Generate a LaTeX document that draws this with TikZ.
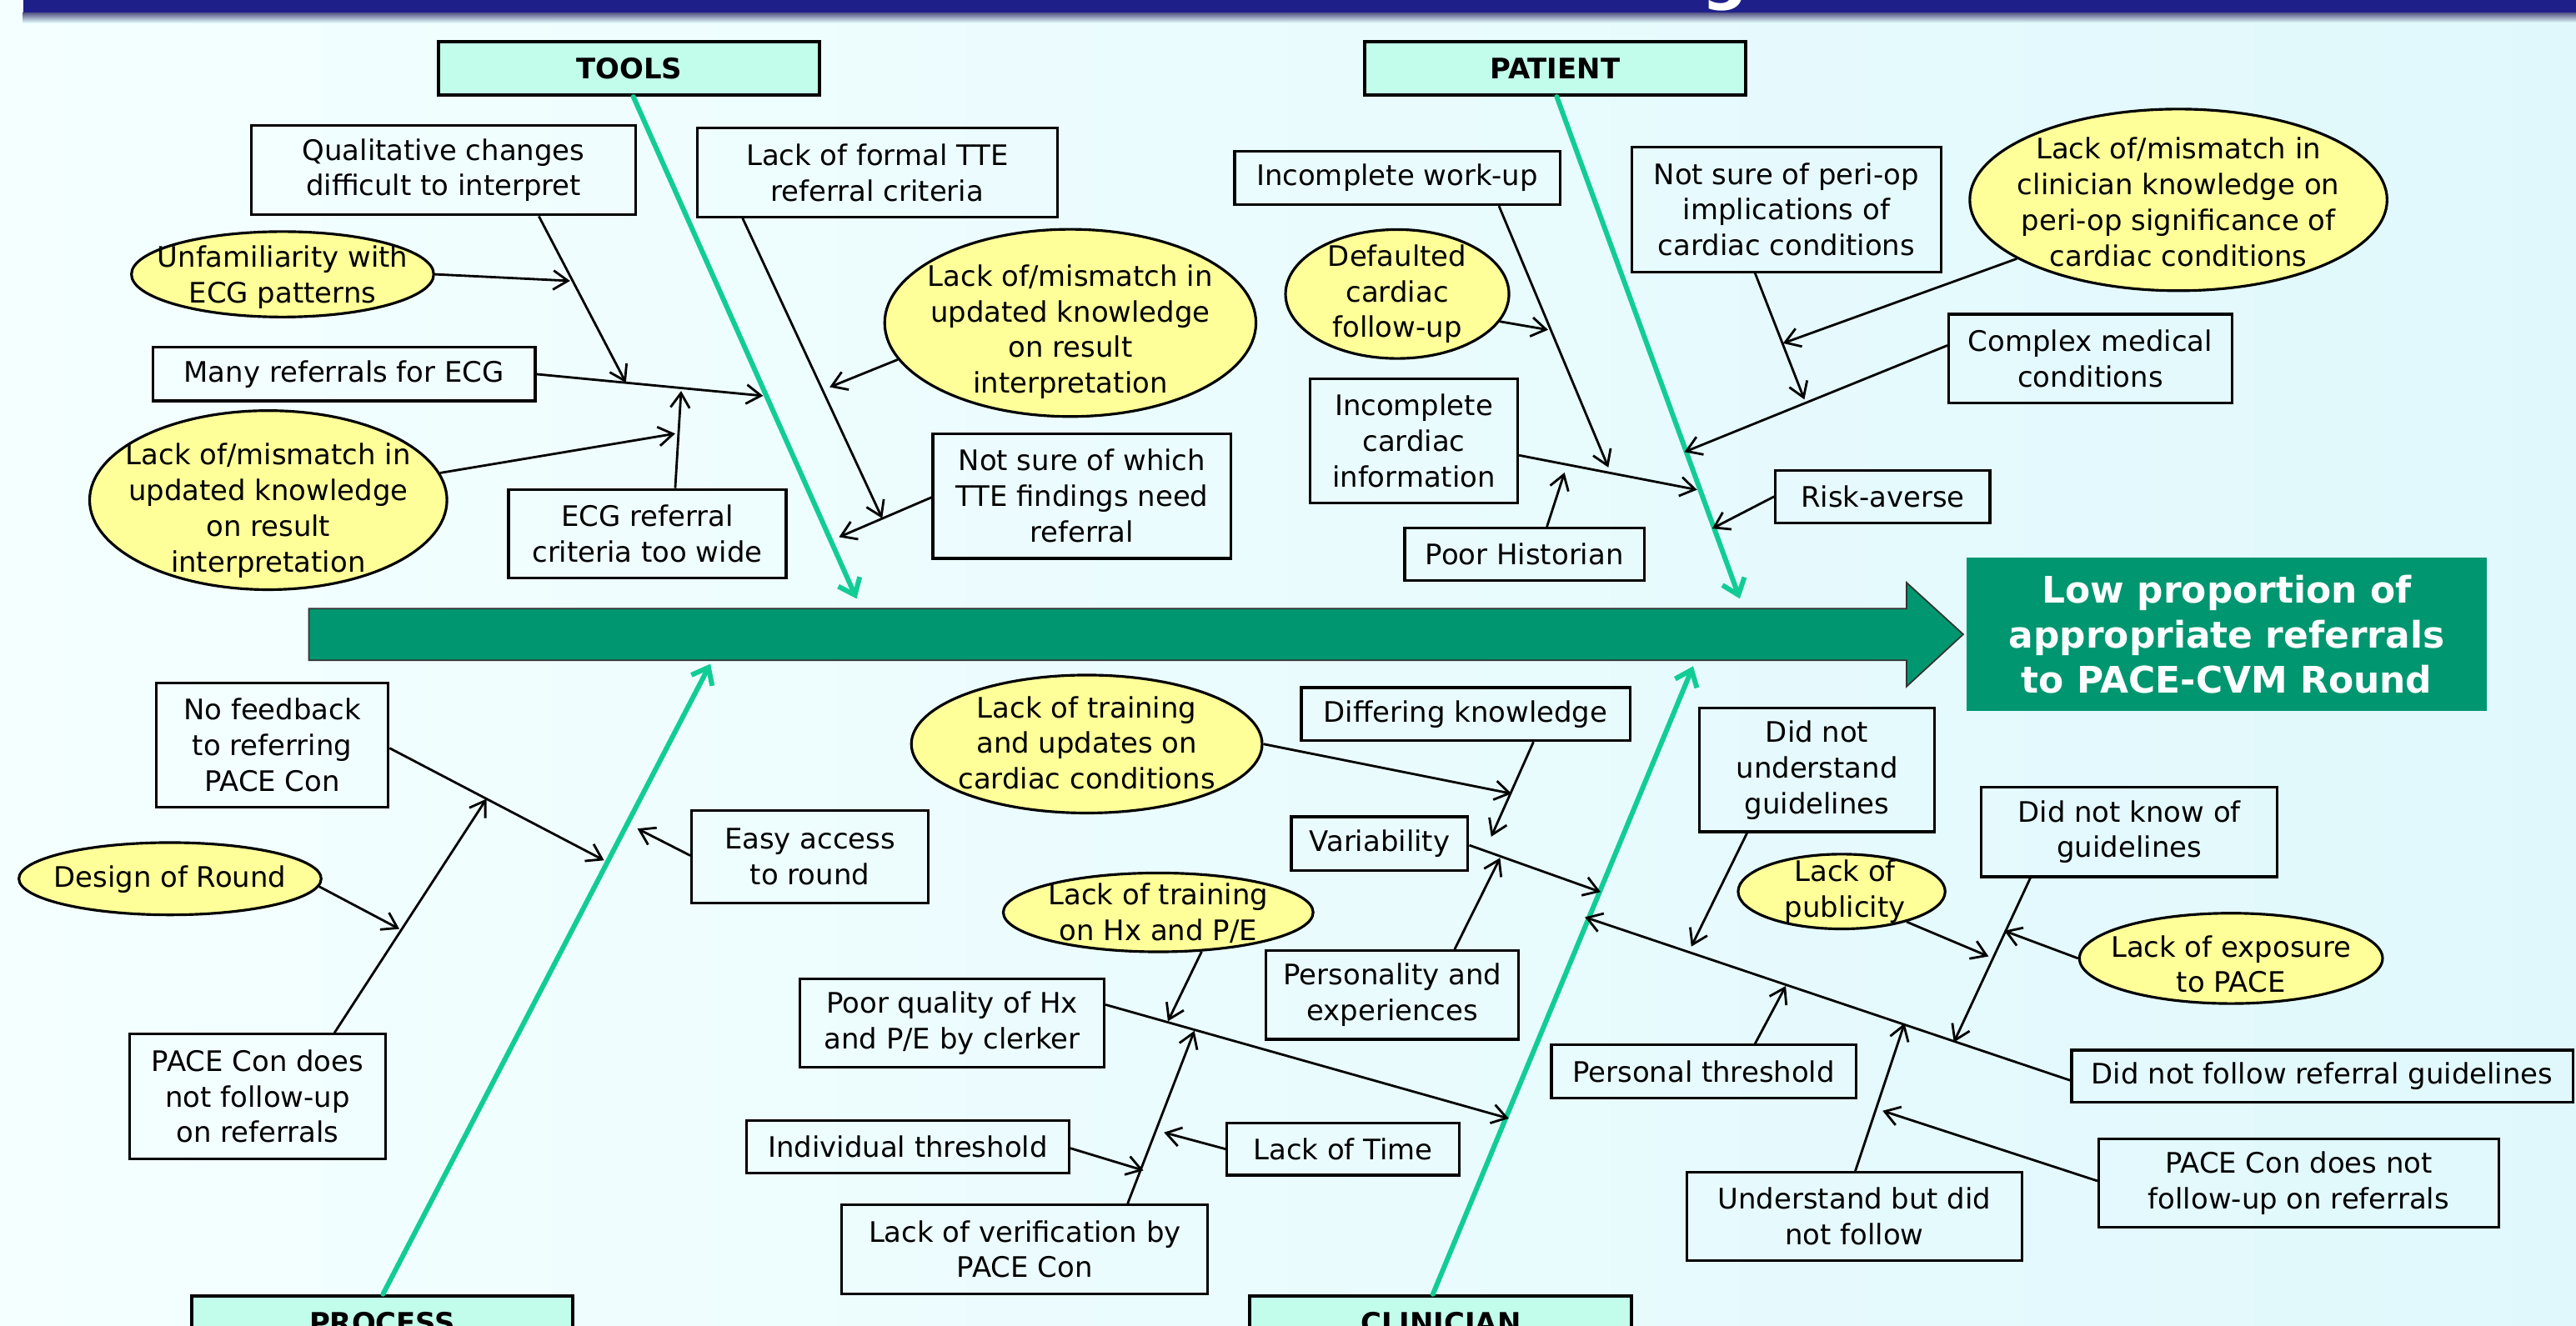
\documentclass[tikz,border=0pt]{standalone}
\usepackage{fontspec}
\setmainfont{DejaVu Sans}
\usetikzlibrary{arrows.meta,shapes.geometric}
\newcommand\pxu{0.019707cm}
\newcommand\fs{\fontsize{9.65}{12.2}\selectfont}
\definecolor{spinec}{HTML}{009670}
\definecolor{bonec}{HTML}{12CC96}
\definecolor{catc}{HTML}{C2FDEB}
\definecolor{yelc}{HTML}{FFFF99}
\definecolor{navyc}{HTML}{1F1F8A}
\definecolor{bgL}{HTML}{F4FFFF}
\definecolor{bgM}{HTML}{E8FFFF}
\definecolor{bgR}{HTML}{E0F8FC}
\tikzset{
  box/.style={draw=black, line width=0.9pt, align=center, inner sep=0pt, font=\fs},
  ellnode/.style={ellipse, draw=black, line width=0.9pt, fill=yelc, inner sep=0pt},
  catbox/.style={draw=black, line width=1.2pt, fill=catc, inner sep=0pt, font=\fs\bfseries},
  arr/.style={draw=black, line width=0.8pt, -{Straight Barb[length=5pt,width=6.5pt]}},
  garr/.style={draw=bonec, line width=1.7pt, line cap=round, -{Straight Barb[length=5pt,width=8pt]}},
}
\newcommand\mkbox[5]{\node[box,minimum width=#3*\pxu,minimum height=#4*\pxu] (#1) at (#2) {#5};}
\newcommand\mkell[6]{\node[ellnode,minimum width=#3*\pxu,minimum height=#4*\pxu] (#1) at (#2) {};
  \node[font=\fs,align=center,inner sep=0pt] (#1-t) at (#5) {#6};}
\begin{document}
\begin{tikzpicture}[x=0.019707cm,y=-0.019707cm]
\useasboundingbox (0,0) rectangle (1568,807);
\clip (0,0) rectangle (1568,807);
% background
\shade[left color=bgL, middle color=bgM, right color=bgR] (0,0) rectangle (1568,807);
% title bar
\shade[top color=navyc!45!gray, bottom color=bgM] (14,7.6) rectangle (1568,14);
\fill[navyc] (14,0) rectangle (1568,7.6);
\begin{scope}
  \clip (14,0) rectangle (1568,7.6);
  \node[text=white, font=\bfseries\fontsize{22}{22}\selectfont, anchor=base, inner sep=0pt] (titleg) at (1050,-2) {g};
\end{scope}
% spine
\draw[fill=spinec, draw=black!80, line width=0.5pt] (188,370.5) -- (1160.5,370.5) -- (1160.5,354.7) -- (1195,386.2) -- (1160.5,418) -- (1160.5,402) -- (188,402) -- cycle;
\node[fill=spinec, text=white, font=\bfseries\fontsize{12.5}{15.4}\selectfont, align=center, inner sep=0pt,
  minimum width=316.8*\pxu, minimum height=93.7*\pxu] (effect) at (1355.4,386.2)
  {Low proportion of\\appropriate referrals\\to PACE-CVM Round};
% category boxes
\node[catbox, minimum width=232*\pxu, minimum height=32.6*\pxu] (tools) at (383,41.5) {TOOLS};
\node[catbox, minimum width=232*\pxu, minimum height=32.6*\pxu] (patient) at (946.5,41.5) {PATIENT};
\node[catbox, minimum width=232*\pxu, minimum height=32.6*\pxu] (process) at (232.75,805.3) {PROCESS};
\node[catbox, minimum width=232.4*\pxu, minimum height=32.6*\pxu] (clinician) at (877,805.3) {CLINICIAN};
% green bones
\coordinate (gT) at (521.4,364.5);
\coordinate (gP) at (1059,364.5);
\coordinate (gR) at (432.4,404.2);
\coordinate (gC) at (1030.6,405.6);
\draw[garr] (tools.south -| 385.5,0) -- (gT);
\draw[garr] (patient.south -| 947.6,0) -- (gP);
\draw[garr] (process.north -| 233.1,0) -- (gR);
\draw[garr] (clinician.north -| 872.2,0) -- (gC);
% ---------- TOOLS causes
\mkbox{qual}{270,103.6}{234}{54.5}{Qualitative changes\\difficult to interpret}
\mkell{unfam}{172,167}{184}{52}{172,169}{Unfamiliarity with\\ECG patterns}
\mkbox{many}{209.4,227.8}{232.7}{32.5}{Many referrals for ECG}
\mkell{ellA}{163.3,304.5}{217.5}{109}{163.3,311}{Lack of/mismatch in\\updated knowledge\\on result\\interpretation}
\mkbox{ecg}{394,325}{169}{54}{ECG referral\\criteria too wide}
\mkbox{tte}{534,105}{219}{54}{Lack of formal TTE\\referral criteria}
\mkell{ellB}{651.5,196.6}{226}{114}{651.5,202}{Lack of/mismatch in\\updated knowledge\\on result\\interpretation}
\mkbox{notsure}{658.6,302}{181.5}{76}{Not sure of which\\TTE findings need\\referral}
% ---------- PATIENT causes
\mkbox{workup}{850.5,108.3}{198}{32.6}{Incomplete work-up}
\mkell{defaulted}{850.5,179}{136}{78.5}{850.5,179}{Defaulted\\cardiac\\follow-up}
\mkbox{cardinfo}{860.6,268.5}{126.4}{75.7}{Incomplete\\cardiac\\information}
\mkbox{poorhist}{928,337.5}{146}{32}{Poor Historian}
\mkbox{periop}{1087.4,127.5}{188.3}{76}{Not sure of peri-op\\implications of\\cardiac conditions}
\mkell{clinell}{1326,121.7}{254}{110.6}{1326,123}{Lack of/mismatch in\\clinician knowledge on\\peri-op significance of\\cardiac conditions}
\mkbox{complex}{1272.4,218.4}{172.4}{54.2}{Complex medical\\conditions}
\mkbox{risk}{1146,302.3}{130.5}{32}{Risk-averse}
% ---------- PROCESS causes
\mkbox{feedback}{165.7,453.5}{141.3}{75.5}{No feedback\\to referring\\PACE Con}
\mkell{design}{103.5,535}{184}{44}{103.5,535.4}{Design of Round}
\mkbox{pacefollow}{156.8,667.5}{156.2}{75.8}{PACE Con does\\not follow-up\\on referrals}
\mkbox{easy}{493,521.6}{144}{56}{Easy access\\to round}
% ---------- CLINICIAN causes
\mkell{trainupd}{661.5,453}{213.5}{84}{661.5,452.3}{Lack of training\\and updates on\\cardiac conditions}
\mkbox{differ}{892.1,434.8}{200}{32.3}{Differing knowledge}
\mkbox{variab}{839.8,513.6}{107.5}{32.7}{Variability}
\mkell{trainhx}{705,555.5}{188.6}{48}{705,556}{Lack of training\\on Hx and P/E}
\mkbox{personality}{847.6,605.8}{153.8}{54}{Personality and\\experiences}
\mkbox{poorq}{579.5,622.8}{185.3}{54}{Poor quality of Hx\\and P/E by clerker}
\mkbox{indiv}{552.6,698.2}{196.3}{31.7}{Individual threshold}
\mkbox{lacktime}{817.5,699.6}{141.3}{31.7}{Lack of Time}
\mkbox{verif}{623.8,760.6}{222.7}{54}{Lack of verification by\\PACE Con}
\mkbox{dnu}{1106,468.8}{143.2}{75.2}{Did not\\understand\\guidelines}
\mkbox{dnk}{1296.1,506.5}{180}{54.7}{Did not know of\\guidelines}
\mkell{publicity}{1121,542.8}{126}{45.5}{1123,542.8}{Lack of\\publicity}
\mkell{exposure}{1358,583.5}{184.5}{55}{1358,587}{Lack of exposure\\to PACE}
\mkbox{persthr}{1037,652.4}{185.3}{32.3}{Personal threshold}
\mkbox{dnf}{1413.5,655.2}{305}{31.6}{Did not follow referral guidelines}
\mkbox{understand}{1128.8,740.6}{203.6}{53.6}{Understand but did\\not follow}
\mkbox{pacecon}{1399.2,720.3}{243.4}{54}{PACE Con does not\\follow-up on referrals}
% ---------- arrow end points
\coordinate (a1) at (464.5,241);
\coordinate (a2) at (381,233);
\coordinate (a3) at (347,171);
\coordinate (a4) at (414.6,238);
\coordinate (a5) at (411,264);
\coordinate (a6) at (537,315.6);
\coordinate (a7) at (510.7,327);
\coordinate (a8) at (505,235.7);
\coordinate (b1) at (1033,298.2);
\coordinate (b2) at (979,284.6);
\coordinate (b3) at (942.3,200.8);
\coordinate (b4) at (952.3,287.7);
\coordinate (b5) at (1098.3,243.2);
\coordinate (b6) at (1085.3,209);
\coordinate (b7) at (1025.3,275.2);
\coordinate (b8) at (1042.2,321.8);
\coordinate (c1) at (367.7,523.8);
\coordinate (c2) at (296.1,486.4);
\coordinate (c3) at (243.1,565.6);
\coordinate (c4) at (388,504.5);
\coordinate (d1) at (974.3,543.1);
\coordinate (d2) at (920.1,483.2);
\coordinate (d3) at (907.7,509.4);
\coordinate (d4) at (913.1,522.3);
\coordinate (d5) at (918.4,681);
\coordinate (d6) at (710.9,621.8);
\coordinate (d7) at (727,627.6);
\coordinate (d8) at (696,712.6);
\coordinate (d9) at (708.5,689.5);
\coordinate (d10) at (964.7,558.4);
\coordinate (d11) at (1029.5,576.3);
\coordinate (d12) at (1087,600.3);
\coordinate (d13) at (1159.3,623);
\coordinate (d14) at (1145.9,676.3);
\coordinate (d15) at (1189.3,634.6);
\coordinate (d16) at (1210.4,582.3);
\coordinate (d17) at (1220,566.7);
% ---------- TOOLS arrows
\draw[arr] (many.east) -- (a1);
\draw[arr] (qual.south -| 328,0) -- (a2);
\draw[arr] (unfam.east) -- (a3);
\draw[arr] (ecg.north -| 411,0) -- (a4);
\draw[arr] (ellA.9) -- (a5);
\draw[arr] (tte.south -| 452,0) -- (a6);
\draw[arr] (notsure.west |- 0,302.8) -- (a7);
\draw[arr] (ellB.192) -- (a8);
% ---------- PATIENT arrows
\draw[arr] (cardinfo.east |- 0,277.2) -- (b1);
\draw[arr] (workup.south -| 912.4,0) -- (b2);
\draw[arr] (defaulted.-15) -- (b3);
\draw[arr] (poorhist.north -| 941.6,0) -- (b4);
\draw[arr] (periop.south -| 1068.3,0) -- (b5);
\draw[arr] (clinell.200) -- (b6);
\draw[arr] (complex.west |- 0,210.3) -- (b7);
\draw[arr] (risk.west) -- (b8);
% ---------- PROCESS arrows
\draw[arr] (feedback.east |- 0,455.5) -- (c1);
\draw[arr] (pacefollow.north -| 203.6,0) -- (c2);
\draw[arr] (design.-3) -- (c3);
\draw[arr] (easy.west |- 0,520.9) -- (c4);
% ---------- CLINICIAN arrows
\draw[arr] (variab.east |- 0,514.6) -- (d1);
\draw[arr] (trainupd.east) -- (d2);
\draw[arr] (differ.south -| 933.4,0) -- (d3);
\draw[arr] (personality.north -| 885.4,0) -- (d4);
\draw[arr] (poorq.east |- 0,611.7) -- (d5);
\draw[arr] (trainhx.-42) -- (d6);
\draw[arr] (verif.north -| 686.4,0) -- (d7);
\draw[arr] (indiv.east |- 0,699.1) -- (d8);
\draw[arr] (lacktime.west |- 0,699.6) -- (d9);
\draw[arr] (dnf.west |- 0,657.8) -- (d10);
\draw[arr] (dnu.south -| 1063.4,0) -- (d11);
\draw[arr] (persthr.north -| 1068.3,0) -- (d12);
\draw[arr] (understand.north -| 1129.3,0) -- (d13);
\draw[arr] (pacecon.west |- 0,719) -- (d14);
\draw[arr] (dnk.south -| 1235.8,0) -- (d15);
\draw[arr] (publicity.-25) -- (d16);
\draw[arr] (exposure.west) -- (d17);
\end{tikzpicture}
\end{document}
